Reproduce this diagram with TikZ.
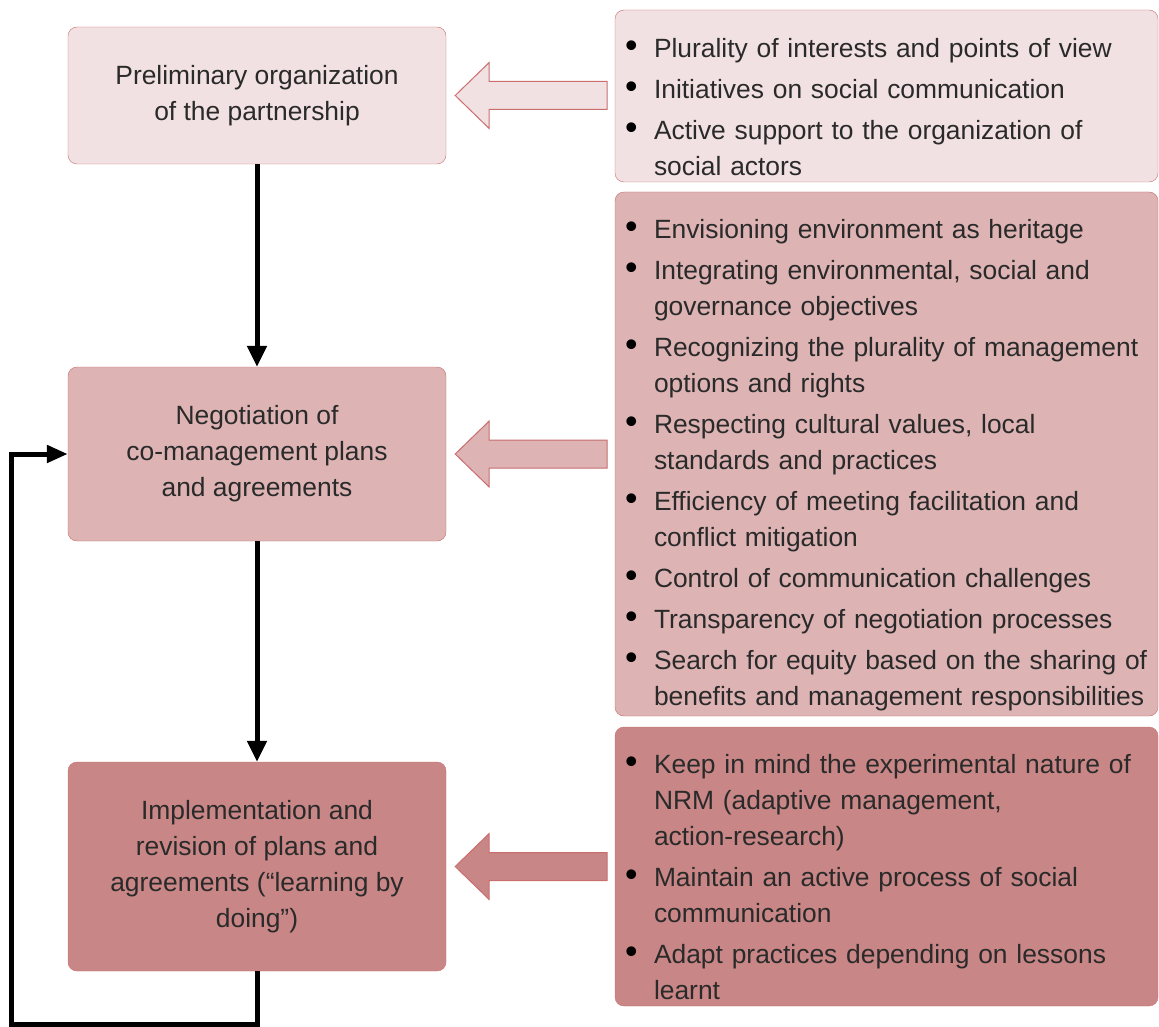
\documentclass[tikz,border=0pt]{standalone}
\usepackage{fontspec}
\setmainfont{Liberation Sans}
\usetikzlibrary{arrows.meta}
\definecolor{pinkA}{HTML}{F2E1E2}
\definecolor{pinkB}{HTML}{DDB3B4}
\definecolor{pinkC}{HTML}{C98686}
\definecolor{rim}{HTML}{C96D6D}
\definecolor{ink}{HTML}{2A2A2A}
\newcommand\bul[1]{\makebox[29pt][l]{\color{black}\scalebox{1.35}{\textbullet}}\mbox{#1}}
\newcommand\cnt[1]{\hspace*{29pt}\mbox{#1}}
\newcommand\topgap{\par\vspace*{5pt}}

\begin{document}
\begin{tikzpicture}
		[x=1pt,y=-1pt,
		lbox/.style={draw=rim,rounded corners=9pt,minimum width=378pt,inner sep=0pt,align=center,text=ink,font=\fontsize{26.4}{36}\selectfont},
		rbox/.style={draw=rim,rounded corners=9pt,text width=523pt,inner xsep=10pt,inner ysep=0pt,align=left,text=ink,font=\fontsize{26.4}{36}\selectfont},
		flow/.style={line width=5pt,{Triangle[length=21pt,width=19pt]}-},
		loop/.style={line width=5pt,-{Triangle[length=21pt,width=17pt]}},
		fat/.style={draw=rim,line width=1pt}]

		\useasboundingbox (0,0) rectangle (1159,1027);

		\node[lbox,fill=pinkA,minimum height=137pt] (prel) at (257,95.5) {Preliminary organization\\of the partnership};

		\node[lbox,fill=pinkB,minimum height=174pt] (nego) at (257,454) {Negotiation of\\co-management plans\\and agreements}
			edge [flow]	(prel)
		;

		\node[lbox,fill=pinkC,minimum height=209pt] (impl) at (257,866.5) {Implementation and\\revision of plans and\\agreements (“learning by\\doing”)}
			edge [flow]	(nego)
		;

		\node[rbox,fill=pinkA,minimum height=172pt] (tipsA) at (886.5,96) {\topgap
			\bul{Plurality of interests and points of view}\\[5pt]
			\bul{Initiatives on social communication}\\[5pt]
			\bul{Active support to the organization of}\\
			\cnt{social actors}};

		\node[rbox,fill=pinkB,minimum height=524pt] (tipsB) at (886.5,454) {\topgap
			\bul{Envisioning environment as heritage}\\[5pt]
			\bul{Integrating environmental, social and}\\
			\cnt{governance objectives}\\[5pt]
			\bul{Recognizing the plurality of management}\\
			\cnt{options and rights}\\[5pt]
			\bul{Respecting cultural values, local}\\
			\cnt{standards and practices}\\[5pt]
			\bul{Efficiency of meeting facilitation and}\\
			\cnt{conflict mitigation}\\[5pt]
			\bul{Control of communication challenges}\\[5pt]
			\bul{Transparency of negotiation processes}\\[5pt]
			\bul{Search for equity based on the sharing of}\\
			\cnt{benefits and management responsibilities}};

		\node[rbox,fill=pinkC,minimum height=279pt] (tipsC) at (886.5,866.5) {\topgap
			\bul{Keep in mind the experimental nature of}\\
			\cnt{NRM (adaptive management,}\\
			\cnt{action-research)}\\[5pt]
			\bul{Maintain an active process of social}\\
			\cnt{communication}\\[5pt]
			\bul{Adapt practices depending on lessons}\\
			\cnt{learnt}};

		% fat arrows from the tips to the steps
		\draw[fat,fill=pinkA] ([xshift=9pt]prel.east) -- ++(34,-33) -- ++(0,19) -- ++(118,0) -- ++(0,28) -- ++(-118,0) -- ++(0,19) -- cycle;
		\draw[fat,fill=pinkB] ([xshift=9pt]nego.east) -- ++(34,-33) -- ++(0,19) -- ++(118,0) -- ++(0,28) -- ++(-118,0) -- ++(0,19) -- cycle;
		\draw[fat,fill=pinkC] ([xshift=9pt]impl.east) -- ++(34,-33) -- ++(0,19) -- ++(118,0) -- ++(0,28) -- ++(-118,0) -- ++(0,19) -- cycle;

		% feedback loop
		\coordinate (low) at (257,1024.5);
		\coordinate (side) at (11.5,1024.5);
		\draw[loop] (impl.south) -- (low) -- (side) -- (side |- nego.west) -- (nego.west);
\end{tikzpicture}
\end{document}
